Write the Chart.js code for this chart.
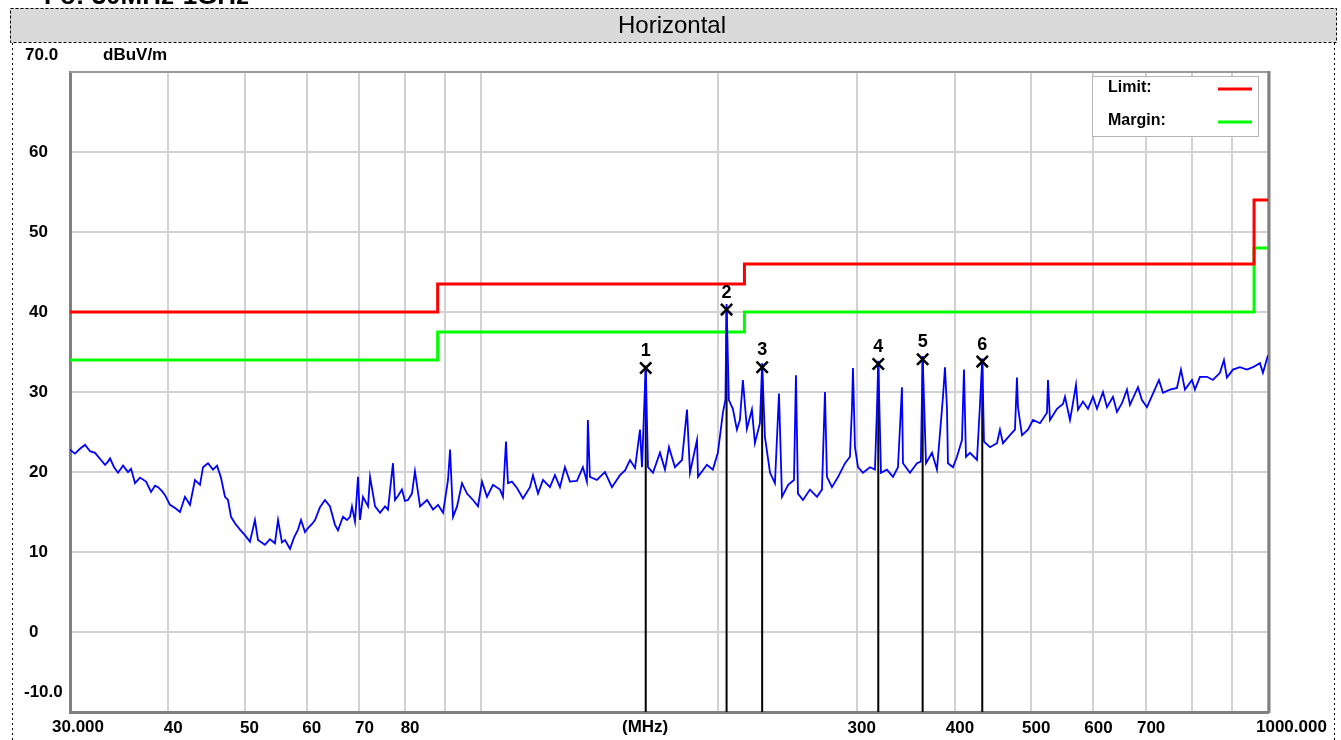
<!DOCTYPE html>
<html>
<head>
<meta charset="utf-8">
<title>Horizontal</title>
<script src="https://cdn.jsdelivr.net/npm/chart.js@4.4.1/dist/chart.umd.min.js"></script>
<style>
  html, body { margin: 0; padding: 0; background: #fff; }
  #wrap { width: 1341px; height: 740px; }
</style>
</head>
<body>
<div id="wrap"><canvas id="emiChart" width="1341" height="740"></canvas></div>
<script>
// emission scan, horizontal polarisation, 30 MHz - 1 GHz

/* =========================================
   DATA
========================================= */
const traceFreq = [
  30.00, 30.44, 30.89, 31.35, 31.81, 32.28, 32.85, 33.24, 33.53, 33.73,
  34.13, 34.53, 35.04, 35.55, 35.87, 36.29, 36.82, 37.48, 38.03, 38.48,
  38.82, 39.27, 39.62, 40.20, 40.80, 41.40, 42.00, 42.62, 43.25, 43.89,
  44.28, 44.93, 45.59, 46.13, 46.67, 47.22, 47.64, 48.06, 48.62, 49.34,
  50.06, 50.80, 51.55, 52.01, 53.08, 53.86, 54.66, 55.15, 55.79, 56.29,
  57.12, 57.79, 58.47, 58.99, 59.68, 60.21, 60.92, 61.46, 62.36, 63.28,
  64.21, 65.16, 65.73, 66.70, 67.49, 68.08, 68.48, 69.09, 69.70, 70.10,
  70.72, 71.78, 72.20, 73.27, 74.35, 75.43, 76.09, 77.21, 77.67, 78.35,
  79.26, 79.96, 80.67, 81.62, 82.34, 83.58, 85.31, 86.82, 88.10, 89.40,
  90.71, 91.25, 92.05, 93.14, 94.49, 95.89, 97.59, 99.03, 100.19, 101.67,
  103.47, 105.61, 106.54, 107.48, 108.11, 109.38, 111.00, 112.97, 115.30, 116.32,
  118.04, 119.78, 122.24, 124.04, 125.87, 127.72, 129.60, 132.29, 134.62, 136.20,
  136.60, 137.40, 140.24, 143.59, 146.57, 150.05, 152.29, 154.52, 156.81, 159.11,
  160.04, 161.80, 162.88, 165.27, 168.69, 171.17, 173.19, 176.25, 179.91, 182.57,
  184.18, 188.00, 188.55, 193.52, 196.92, 199.83, 202.79, 204.30, 205.00, 206.38,
  208.81, 211.28, 213.14, 215.02, 217.57, 220.78, 222.73, 226.01, 227.50, 229.34,
  232.82, 236.18, 238.98, 241.09, 245.51, 249.70, 251.16, 252.64, 256.36, 261.67,
  267.09, 271.03, 273.41, 275.01, 279.07, 284.15, 289.98, 294.17, 295.92, 296.76,
  298.51, 301.15, 305.59, 311.90, 316.50, 318.36, 319.60, 322.11, 327.82, 333.63,
  338.55, 340.53, 342.53, 343.54, 350.65, 357.92, 362.00, 363.90, 367.48, 373.98,
  379.50, 386.23, 388.49, 390.77, 391.91, 397.69, 402.37, 408.31, 410.70, 413.11,
  417.98, 426.63, 430.39, 433.30, 435.46, 443.17, 452.35, 456.33, 460.36, 469.88,
  476.81, 479.61, 481.02, 486.69, 495.31, 502.62, 513.04, 523.65, 525.19, 528.27,
  539.21, 548.76, 551.98, 560.11, 563.40, 570.04, 573.38, 581.84, 590.41, 599.12,
  606.17, 616.91, 624.17, 635.23, 642.70, 652.18, 661.79, 667.62, 683.42, 691.46,
  701.67, 714.10, 726.75, 735.30, 750.53, 766.07, 775.09, 784.22, 800.45, 807.50,
  819.41, 836.37, 851.18, 868.78, 879.00, 886.75, 902.44, 921.12, 940.17, 956.84,
  976.64, 985.26, 1000.00
];

const traceLevel = [
  22.8, 22.3, 22.9, 23.4, 22.6, 22.4, 21.5, 20.9, 21.3, 21.7,
  20.6, 19.9, 20.8, 20.0, 20.4, 18.6, 19.3, 18.8, 17.5, 18.3,
  18.1, 17.6, 17.1, 15.9, 15.5, 15.0, 16.9, 15.9, 19.0, 18.4,
  20.6, 21.1, 20.3, 20.8, 19.3, 16.9, 16.5, 14.4, 13.6, 12.8,
  12.1, 11.3, 14.0, 11.5, 10.9, 11.6, 11.1, 14.0, 11.2, 11.5,
  10.4, 11.8, 12.8, 14.0, 12.5, 13.0, 13.5, 14.0, 15.6, 16.5,
  15.7, 13.4, 12.7, 14.4, 14.0, 14.4, 15.7, 13.8, 19.4, 14.0,
  16.9, 15.7, 19.4, 15.7, 14.9, 15.7, 15.3, 21.1, 16.5, 17.0,
  17.8, 16.4, 16.5, 17.3, 20.1, 15.7, 16.5, 15.3, 15.9, 14.9,
  19.0, 22.8, 14.4, 15.7, 18.6, 17.3, 16.5, 15.7, 18.8, 16.9,
  18.4, 17.8, 16.9, 23.8, 18.6, 18.8, 18.0, 16.7, 18.1, 19.6,
  17.3, 19.0, 18.1, 19.6, 18.1, 20.6, 18.8, 18.9, 20.6, 18.8,
  26.5, 19.4, 19.0, 20.0, 18.1, 19.6, 20.2, 21.5, 20.5, 25.3,
  20.6, 33.3, 20.6, 19.9, 22.4, 20.3, 23.1, 20.6, 21.5, 27.8,
  19.9, 24.0, 19.4, 20.9, 20.3, 22.4, 27.4, 29.0, 41.0, 29.0,
  27.9, 25.3, 26.5, 31.5, 25.4, 27.8, 23.6, 26.1, 33.6, 24.4,
  19.9, 18.6, 29.8, 16.9, 18.4, 19.0, 32.1, 17.3, 16.5, 17.8,
  16.9, 17.8, 30.0, 19.4, 18.1, 19.4, 21.1, 21.9, 28.1, 33.0,
  23.1, 20.6, 19.9, 20.6, 20.3, 27.9, 33.9, 19.9, 20.3, 19.4,
  20.6, 25.6, 30.6, 21.1, 19.9, 21.1, 21.3, 34.5, 21.1, 22.4,
  20.3, 29.4, 33.1, 27.9, 21.1, 20.6, 21.9, 24.0, 32.8, 21.9,
  22.4, 21.5, 28.4, 34.2, 23.8, 23.1, 23.6, 25.3, 23.6, 24.6,
  25.3, 31.8, 28.1, 24.6, 25.3, 26.5, 26.1, 27.4, 31.5, 26.5,
  27.9, 28.5, 29.4, 26.5, 27.9, 30.9, 27.8, 28.8, 27.9, 29.4,
  27.9, 30.0, 28.1, 29.4, 27.5, 28.6, 30.3, 28.4, 30.6, 29.0,
  28.1, 29.8, 31.5, 29.9, 30.3, 30.5, 32.8, 30.3, 31.5, 30.3,
  31.9, 31.9, 31.5, 32.4, 34.0, 31.8, 32.8, 33.1, 32.8, 33.1,
  33.6, 32.4, 34.6
];

// limit line and 6 dB margin line (steps at 88, 216 and 960 MHz)
const limitFreq = [30, 88, 88, 216, 216, 960, 960, 1000];
const limitLevel = [40, 40, 43.5, 43.5, 46, 46, 54, 54];
const marginLevel = [34, 34, 37.5, 37.5, 40, 40, 48, 48];

// peak markers
const markerNames = ["1", "2", "3", "4", "5", "6"];
const markerFreq = [161.8, 205.0, 227.5, 319.6, 363.9, 433.3];
const markerLevel = [33.0, 40.3, 33.1, 33.5, 34.1, 33.8];

// x axis grid and labels
const xGridFreq = [30, 40, 50, 60, 70, 80, 90, 100, 200, 300, 400, 500, 600, 700, 800, 900, 1000];
const xTickText = ["", "40", "50", "60", "70", "80", "", "", "", "300", "400", "500", "600", "700", "", "", ""];

const FONT = '"Liberation Sans", Arial, sans-serif';

/* =========================================
   DATASETS
========================================= */
const tracePoints = traceFreq.map((f, i) => ({ x: f, y: traceLevel[i] }));
const limitPoints = limitFreq.map((f, i) => ({ x: f, y: limitLevel[i] }));
const marginPoints = limitFreq.map((f, i) => ({ x: f, y: marginLevel[i] }));
const markerPoints = markerFreq.map((f, i) => ({ x: f, y: markerLevel[i] }));

// vertical stems from the bottom of the plot up to each marker
const stemPoints = [];
markerFreq.forEach((f, i) => {
  stemPoints.push({ x: f, y: -10 });
  stemPoints.push({ x: f, y: markerLevel[i] });
  stemPoints.push({ x: f, y: null });
});

/* =========================================
   PLUGIN: FRAME, TITLE, LEGEND, EXTRA TEXT
========================================= */
const framePlugin = {
  id: "frame",
  beforeDraw(chart) {
    const ctx = chart.ctx;
    ctx.save();
    ctx.fillStyle = "#ffffff";
    ctx.fillRect(0, 0, chart.width, chart.height);

    // heading cut off by the top edge
    ctx.fillStyle = "#000";
    ctx.font = "bold 26px " + FONT;
    ctx.textAlign = "left";
    ctx.textBaseline = "alphabetic";
    ctx.fillText("Fo: 30MHz-1GHz", 44, 4);

    // grey title bar
    ctx.fillStyle = "#dadada";
    ctx.fillRect(10, 8, 1326, 34);
    ctx.strokeStyle = "#000";
    ctx.lineWidth = 1;
    ctx.setLineDash([3, 2]);
    ctx.strokeRect(10.5, 8.5, 1326, 34);

    // dotted page sides
    ctx.setLineDash([2, 3]);
    ctx.beginPath();
    ctx.moveTo(12.5, 43);
    ctx.lineTo(12.5, 740);
    ctx.moveTo(1334.5, 43);
    ctx.lineTo(1334.5, 740);
    ctx.stroke();
    ctx.setLineDash([]);

    ctx.fillStyle = "#000";
    ctx.font = "24px " + FONT;
    ctx.textAlign = "center";
    ctx.textBaseline = "middle";
    ctx.fillText("Horizontal", 672, 26);
    ctx.restore();
  },

  beforeDatasetsDraw(chart) {
    const { ctx, chartArea } = chart;
    ctx.save();
    ctx.strokeStyle = "#9a9a9a";
    ctx.lineWidth = 2;
    ctx.beginPath();
    ctx.moveTo(chartArea.left, chartArea.top);
    ctx.lineTo(chartArea.right, chartArea.top);
    ctx.stroke();
    ctx.strokeStyle = "#808080";
    ctx.lineWidth = 3;
    ctx.beginPath();
    ctx.moveTo(chartArea.right + 1, chartArea.top - 1);
    ctx.lineTo(chartArea.right + 1, chartArea.bottom + 1);
    ctx.stroke();
    ctx.restore();
  },

  afterDraw(chart) {
    const { ctx, chartArea } = chart;
    const xs = chart.scales.x;
    const ys = chart.scales.y;
    ctx.save();

    // marker numbers
    ctx.fillStyle = "#000";
    ctx.font = "bold 18px " + FONT;
    ctx.textAlign = "center";
    ctx.textBaseline = "middle";
    markerFreq.forEach((f, i) => {
      ctx.fillText(markerNames[i], xs.getPixelForValue(f), ys.getPixelForValue(markerLevel[i]) - 17);
    });

    // axis end labels and units
    ctx.font = "bold 17px " + FONT;
    ctx.textAlign = "left";
    ctx.fillText("70.0", 25, ys.getPixelForValue(70) - 17);
    ctx.fillText("dBuV/m", 103, ys.getPixelForValue(70) - 17);
    ctx.fillText("-10.0", 24, ys.getPixelForValue(-10) - 20);
    ctx.fillText("30.000", 52, chartArea.bottom + 15);
    ctx.fillText("(MHz)", 622, chartArea.bottom + 15);
    ctx.fillText("1000.000", 1256, chartArea.bottom + 15);

    // legend box
    const lx = chartArea.right - 176;
    const ly = chartArea.top + 4;
    ctx.fillStyle = "#fff";
    ctx.fillRect(lx, ly, 166, 60);
    ctx.strokeStyle = "#b4b4b4";
    ctx.lineWidth = 1;
    ctx.strokeRect(lx + 0.5, ly + 0.5, 166, 60);
    ctx.fillStyle = "#000";
    ctx.font = "bold 16px " + FONT;
    ctx.fillText("Limit:", lx + 16, ly + 12);
    ctx.fillText("Margin:", lx + 16, ly + 45);
    ctx.lineWidth = 3;
    ctx.strokeStyle = "#ff0000";
    ctx.beginPath();
    ctx.moveTo(lx + 126, ly + 13);
    ctx.lineTo(lx + 160, ly + 13);
    ctx.stroke();
    ctx.strokeStyle = "#00ff00";
    ctx.beginPath();
    ctx.moveTo(lx + 126, ly + 46);
    ctx.lineTo(lx + 160, ly + 46);
    ctx.stroke();
    ctx.restore();
  }
};

/* =========================================
   CHART
========================================= */
const ctx = document.getElementById("emiChart").getContext("2d");

new Chart(ctx, {
  type: "line",
  data: {
    datasets: [
      {
        label: "Markers",
        data: markerPoints,
        showLine: false,
        pointStyle: "crossRot",
        pointRadius: 8,
        pointBorderWidth: 2.5,
        pointBorderColor: "#000",
        order: 0
      },
      {
        label: "Limit",
        data: limitPoints,
        borderColor: "#ff0000",
        borderWidth: 3,
        pointRadius: 0,
        order: 1
      },
      {
        label: "Trace",
        data: tracePoints,
        borderColor: "#0000ff",
        borderWidth: 1.8,
        pointRadius: 0,
        order: 2
      },
      {
        label: "Margin",
        data: marginPoints,
        borderColor: "#00ff00",
        borderWidth: 3,
        pointRadius: 0,
        order: 3
      },
      {
        label: "Stems",
        data: stemPoints,
        borderColor: "#000",
        borderWidth: 2,
        pointRadius: 0,
        spanGaps: false,
        order: 4
      }
    ]
  },
  options: {
    responsive: false,
    animation: false,
    devicePixelRatio: 1,
    events: [],
    layout: { padding: { left: 29, right: 73, top: 72, bottom: 0 } },
    elements: { line: { tension: 0 } },
    plugins: {
      legend: { display: false },
      tooltip: { enabled: false }
    },
    scales: {
      x: {
        type: "logarithmic",
        min: 30,
        max: 1000,
        afterBuildTicks: axis => {
          axis.ticks = xGridFreq.map(v => ({ value: v }));
        },
        afterFit: axis => {
          axis.height = 28;
        },
        ticks: {
          autoSkip: false,
          maxRotation: 0,
          padding: 6,
          labelOffset: 5,
          color: "#000",
          font: { family: FONT, size: 17, weight: "bold" },
          callback: (value, index) => xTickText[index]
        },
        grid: { color: "#d2d2d2", lineWidth: 2, drawTicks: false },
        border: { color: "#808080", width: 3 }
      },
      y: {
        type: "linear",
        min: -10,
        max: 70,
        afterFit: axis => {
          axis.width = 41;
        },
        ticks: {
          stepSize: 10,
          crossAlign: "far",
          padding: 4,
          color: "#000",
          font: { family: FONT, size: 17, weight: "bold" },
          callback: value => (value === 70 || value === -10 ? "" : String(value))
        },
        grid: { color: "#d2d2d2", lineWidth: 2, drawTicks: false },
        border: { color: "#808080", width: 3 }
      }
    }
  },
  plugins: [framePlugin]
});
</script>
</body>
</html>
